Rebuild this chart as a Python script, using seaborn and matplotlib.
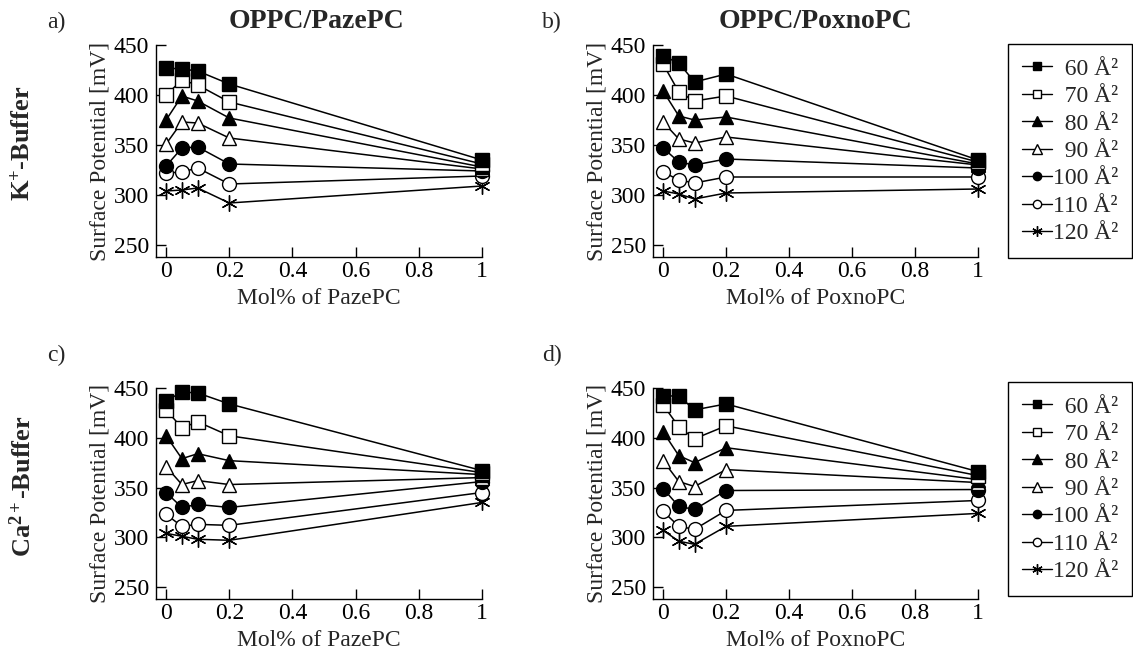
import matplotlib
matplotlib.use("Agg")
import matplotlib.pyplot as plt
import seaborn as sns
import pandas as pd
from matplotlib.lines import Line2D

# ---------------- data ----------------
mol_frac = [0.0, 0.05, 0.1, 0.2, 1.0]
areas = ["60", "70", "80", "90", "100", "110", "120"]
x_ticks = [0, 0.2, 0.4, 0.6, 0.8, 1.0]
x_tick_labels = ["0", "0.2", "0.4", "0.6", "0.8", "1"]
y_ticks = [250, 300, 350, 400, 450]

# K+-buffer, OPPC/PazePC  (rows: 60..120 A^2)
k_pazepc = [
    [427, 426, 424, 411, 335],
    [400, 415, 410, 393, 331],
    [375, 399, 394, 377, 328],
    [351, 373, 372, 357, 326],
    [329, 347, 348, 331, 324],
    [322, 323, 327, 311, 319],
    [304, 305, 307, 292, 309],
]
# K+-buffer, OPPC/PoxnoPC
k_poxnopc = [
    [439, 432, 413, 421, 335],
    [431, 403, 394, 399, 333],
    [404, 379, 375, 378, 331],
    [373, 356, 352, 358, 330],
    [347, 333, 330, 336, 327],
    [323, 315, 312, 318, 318],
    [304, 301, 296, 302, 306],
]
# Ca2+-buffer, OPPC/PazePC
ca_pazepc = [
    [437, 446, 445, 434, 367],
    [428, 410, 416, 402, 365],
    [402, 379, 384, 377, 363],
    [371, 353, 357, 353, 360],
    [345, 330, 333, 330, 356],
    [323, 311, 313, 312, 345],
    [304, 301, 298, 297, 335],
]
# Ca2+-buffer, OPPC/PoxnoPC
ca_poxnopc = [
    [442, 442, 428, 434, 366],
    [433, 411, 399, 412, 362],
    [406, 382, 375, 390, 358],
    [377, 356, 351, 368, 355],
    [349, 331, 328, 347, 348],
    [326, 311, 308, 327, 337],
    [307, 296, 293, 311, 324],
]

panel_titles = ["OPPC/PazePC", "OPPC/PoxnoPC"]
panel_letters = ["a)", "b)", "c)", "d)"]
row_labels = [r"K$^{\mathbf{+}}$-Buffer", r"Ca$^{\mathbf{2+}}$-Buffer"]
x_labels = ["Mol% of PazePC", "Mol% of PoxnoPC"]
y_label = "Surface Potential [mV]"

# ---------------- style ----------------
sns.set_style("ticks")
plt.rcParams["font.family"] = ["Liberation Serif", "DejaVu Serif"]
plt.rcParams["mathtext.fontset"] = "custom"
plt.rcParams["mathtext.rm"] = "Liberation Serif"
plt.rcParams["mathtext.bf"] = "Liberation Serif:bold"
plt.rcParams["mathtext.it"] = "Liberation Serif:italic"

marker_shapes = ["s", "s", "^", "^", "o", "o", (6, 2, 0)]
marker_faces = ["black", "white", "black", "white", "black", "white", "none"]
marker_sizes = [10, 10, 10.5, 10.5, 10, 10, 11.5]
legend_sizes = [6, 6, 6.5, 6.5, 6, 6, 7.5]

W, H = 1133, 655
fig = plt.figure(figsize=(W / 100, H / 100), dpi=100)


def px_axes(left, top, right, bottom):
    return fig.add_axes([left / W, 1 - bottom / H, (right - left) / W, (bottom - top) / H])


ax_a = px_axes(156, 45, 482, 257)
ax_b = px_axes(653, 45, 978, 257)
ax_c = px_axes(156, 388, 482, 599)
ax_d = px_axes(653, 388, 978, 599)


def draw(ax, values, xlabel):
    for i in reversed(range(len(areas))):
        df = pd.DataFrame({"x": mol_frac, "y": values[i]})
        sns.lineplot(data=df, x="x", y="y", ax=ax, color="black", lw=1.1,
                     marker=marker_shapes[i], markersize=marker_sizes[i],
                     markerfacecolor=marker_faces[i], markeredgecolor="black",
                     markeredgewidth=1.0, clip_on=False, legend=False)
    ax.set_xlim(-0.032, 1.0)
    ax.set_ylim(238, 450)
    ax.set_xticks(x_ticks)
    ax.set_xticklabels(x_tick_labels)
    ax.set_yticks(y_ticks)
    ax.tick_params(direction="in", length=7, width=1, labelsize=17, colors="black")
    ax.tick_params(axis="y", pad=5)
    ax.tick_params(axis="x", pad=3)
    for s in ["top", "right"]:
        ax.spines[s].set_visible(False)
    for s in ["left", "bottom"]:
        ax.spines[s].set_linewidth(1.0)
        ax.spines[s].set_color("black")
    ax.set_xlabel(xlabel, fontsize=17, labelpad=4)
    ax.set_ylabel(y_label, fontsize=17, labelpad=2)


draw(ax_a, k_pazepc, x_labels[0])
draw(ax_b, k_poxnopc, x_labels[1])
draw(ax_c, ca_pazepc, x_labels[0])
draw(ax_d, ca_poxnopc, x_labels[1])

# titles and letters
fig.text(317 / W, 1 - 21 / H, panel_titles[0], ha="center", va="center",
         fontsize=20, fontweight="bold")
fig.text(815 / W, 1 - 21 / H, panel_titles[1], ha="center", va="center",
         fontsize=20, fontweight="bold")
for letter, (lx, ly) in zip(panel_letters, [(56, 22), (552, 22), (56, 355), (552, 355)]):
    fig.text(lx / W, 1 - ly / H, letter, ha="center", va="center", fontsize=17)
fig.text(23 / W, 1 - 143 / H, row_labels[0], ha="center", va="center",
         rotation=90, fontsize=19, fontweight="bold")
fig.text(23 / W, 1 - 486 / H, row_labels[1], ha="center", va="center",
         rotation=90, fontsize=19, fontweight="bold")

# legends
handles = [Line2D([], [], color="black", lw=1.0, marker=marker_shapes[i],
                  markersize=legend_sizes[i], markerfacecolor=marker_faces[i],
                  markeredgecolor="black", markeredgewidth=1.0)
           for i in range(len(areas))]
labels = [("  " if len(a) == 2 else "") + a + " Å²" for a in areas]
for top in (44, 382):
    leg = fig.legend(handles, labels, loc="upper left",
                     bbox_to_anchor=(1008 / W, 1 - top / H),
                     frameon=True, fancybox=False, edgecolor="black", framealpha=1,
                     handlelength=1.25, handletextpad=0.05, borderpad=0.6,
                     labelspacing=0.25, borderaxespad=0, fontsize=17)
    leg.get_frame().set_linewidth(1.0)

fig.savefig("out.png", dpi=100)
